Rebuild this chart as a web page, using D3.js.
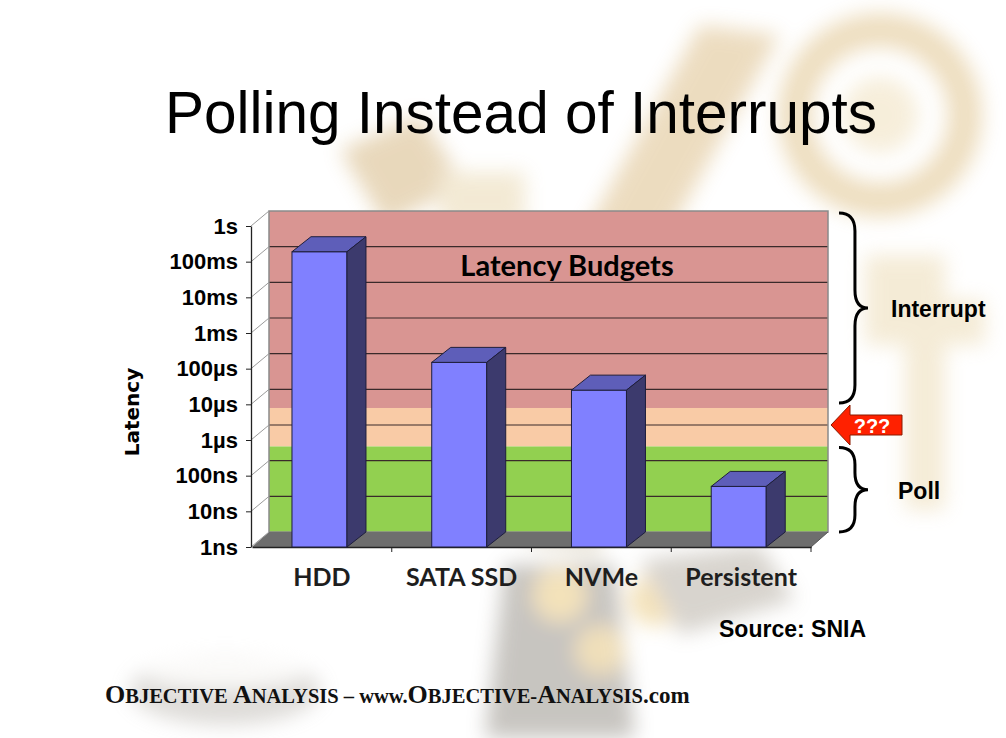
<!DOCTYPE html>
<html>
<head>
<meta charset="utf-8">
<script src="https://cdn.jsdelivr.net/npm/d3@7"></script>
<style>
  body { margin: 0; background: #fff; }
  svg { display: block; }
</style>
</head>
<body>
<svg id="chart" width="1006" height="738"></svg>
<script>
// chart values
const categories = ['HDD', 'SATA SSD', 'NVMe', 'Persistent']
const latencies = [0.19, 1.5e-4, 2.5e-5, 5e-8] // seconds
const tickValues = [1, 1e-1, 1e-2, 1e-3, 1e-4, 1e-5, 1e-6, 1e-7, 1e-8, 1e-9]
const tickLabels = ['1s', '100ms', '10ms', '1ms', '100µs', '10µs', '1µs', '100ns', '10ns', '1ns']
const bandNames = ['interrupt', 'unknown', 'poll']
const bandTops = [1, 3e-6, 2.5e-7]
const bandBottoms = [3e-6, 2.5e-7, 1e-9]

const bandColor = { interrupt: '#d99592', unknown: '#f9cba6', poll: '#92d050' }
const wallDepth = { dx: 17, dy: -15 }
const barDepth = { dx: 19, dy: -15 }
const barWidth = 55

const svg = d3.select('#chart')

const y = d3.scaleLog().domain([1e-9, 1]).range([547, 226])
const x = d3.scaleBand().domain(categories).range([252, 811])

drawBackdrop()

// back wall
const wall = svg.append('g').attr('transform', `translate(${wallDepth.dx},${wallDepth.dy})`)

wall.selectAll('rect.band')
  .data(bandNames)
  .enter()
  .append('rect')
  .attr('class', 'band')
  .attr('x', x.range()[0])
  .attr('width', x.range()[1] - x.range()[0])
  .attr('y', (d, i) => y(bandTops[i]))
  .attr('height', (d, i) => y(bandBottoms[i]) - y(bandTops[i]))
  .attr('fill', d => bandColor[d])

wall.selectAll('line.grid')
  .data(tickValues.slice(1, -1))
  .enter()
  .append('line')
  .attr('class', 'grid')
  .attr('x1', x.range()[0])
  .attr('x2', x.range()[1])
  .attr('y1', d => y(d))
  .attr('y2', d => y(d))
  .attr('stroke', '#3a2a2a')
  .attr('stroke-width', 1.2)

wall.append('rect')
  .attr('x', x.range()[0])
  .attr('y', y(1))
  .attr('width', x.range()[1] - x.range()[0])
  .attr('height', y(1e-9) - y(1))
  .attr('fill', 'none')
  .attr('stroke', '#8a8a8a')
  .attr('stroke-width', 1.5)

// floor
const x0 = x.range()[0]
const x1 = x.range()[1]
const yb = y(1e-9)
svg.append('polygon')
  .attr('points', [[x0, yb], [x1, yb], [x1 + wallDepth.dx, yb + wallDepth.dy], [x0 + wallDepth.dx, yb + wallDepth.dy]].join(' '))
  .attr('fill', '#6e6e6e')

// left side wall lines
svg.selectAll('line.side')
  .data(tickValues)
  .enter()
  .append('line')
  .attr('class', 'side')
  .attr('x1', x0 - 1)
  .attr('x2', x0 + wallDepth.dx)
  .attr('y1', d => y(d))
  .attr('y2', d => y(d) + wallDepth.dy)
  .attr('stroke', '#9a9a9a')
  .attr('stroke-width', 1)

svg.append('line')
  .attr('x1', x1).attr('y1', yb)
  .attr('x2', x1 + wallDepth.dx).attr('y2', yb + wallDepth.dy)
  .attr('stroke', '#555')

// axes
const yAxis = svg.append('g')
  .attr('transform', `translate(${x0 - 1},0)`)
  .call(d3.axisLeft(y).tickValues(tickValues).tickFormat((d, i) => tickLabels[i]).tickSize(5).tickPadding(8).tickSizeOuter(0))
yAxis.select('.domain').attr('stroke', '#222').attr('stroke-width', 1.3)
yAxis.selectAll('.tick line').attr('stroke', '#222')
yAxis.selectAll('text')
  .attr('fill', '#000')
  .style('font-family', '"Liberation Sans", Arial, sans-serif')
  .style('font-weight', 'bold')
  .style('font-size', '22px')

const xAxis = svg.append('g')
  .attr('transform', `translate(0,${yb})`)
  .call(d3.axisBottom(x).tickSize(0).tickPadding(21).tickSizeOuter(0))
xAxis.select('.domain').attr('stroke', '#222').attr('stroke-width', 1.3)
xAxis.selectAll('text')
  .attr('fill', '#1e1e1e')
  .style('font-family', 'Lato, sans-serif')
  .style('font-weight', 'bold')
  .style('font-size', '25px')

xAxis.selectAll('line.boundary')
  .data(categories.slice(1).concat(['end']))
  .enter()
  .append('line')
  .attr('class', 'boundary')
  .attr('x1', d => d === 'end' ? x1 : x(d))
  .attr('x2', d => d === 'end' ? x1 : x(d))
  .attr('y1', 0)
  .attr('y2', 5)
  .attr('stroke', '#222')

// bars
const bars = svg.selectAll('g.bar')
  .data(categories)
  .enter()
  .append('g')
  .attr('class', 'bar')

const faceLeft = d => x(d) + (x.bandwidth() - barWidth) / 2 - 2.4
const faceTop = (d, i) => y(latencies[i])

bars.append('rect')
  .attr('x', faceLeft)
  .attr('y', faceTop)
  .attr('width', barWidth)
  .attr('height', (d, i) => yb - faceTop(d, i))
  .attr('fill', '#8080ff')
  .attr('stroke', '#1e1e3c')
  .attr('stroke-width', 1)

bars.append('polygon')
  .attr('points', (d, i) => {
    const l = faceLeft(d); const r = l + barWidth; const t = faceTop(d, i)
    return [[l, t], [l + barDepth.dx, t + barDepth.dy], [r + barDepth.dx, t + barDepth.dy], [r, t]].join(' ')
  })
  .attr('fill', '#5e5eb9')
  .attr('stroke', '#1e1e3c')
  .attr('stroke-linejoin', 'round')

bars.append('polygon')
  .attr('points', (d, i) => {
    const r = faceLeft(d) + barWidth; const t = faceTop(d, i)
    return [[r, t], [r + barDepth.dx, t + barDepth.dy], [r + barDepth.dx, yb + barDepth.dy], [r, yb]].join(' ')
  })
  .attr('fill', '#3c3a6d')
  .attr('stroke', '#1e1e3c')
  .attr('stroke-linejoin', 'round')

// texts
svg.append('text')
  .attr('x', 521)
  .attr('y', 133)
  .attr('text-anchor', 'middle')
  .style('font-family', '"Liberation Sans", Arial, sans-serif')
  .style('font-size', '58.5px')
  .text('Polling Instead of Interrupts')

svg.append('text')
  .attr('x', 567)
  .attr('y', 276)
  .attr('text-anchor', 'middle')
  .style('font-family', 'Lato, sans-serif')
  .style('font-weight', 'bold')
  .style('font-size', '29px')
  .text('Latency Budgets')

svg.append('text')
  .attr('transform', 'translate(139,412) rotate(-90)')
  .attr('text-anchor', 'middle')
  .style('font-family', '"DejaVu Sans", Verdana, sans-serif')
  .style('font-weight', 'bold')
  .style('font-size', '20px')
  .text('Latency')

svg.append('text')
  .attr('x', 866)
  .attr('y', 637)
  .attr('text-anchor', 'end')
  .style('font-family', '"Liberation Sans", Arial, sans-serif')
  .style('font-weight', 'bold')
  .style('font-size', '23px')
  .text('Source: SNIA')

// braces and arrow
const braceX = 839
const braces = [
  { label: 'Interrupt', top: y(bandTops[0]) + wallDepth.dy + 2, bottom: y(bandBottoms[0]) + wallDepth.dy - 5, labelX: 891 },
  { label: 'Poll', top: y(bandTops[2]) + wallDepth.dy + 1, bottom: y(bandBottoms[2]) + wallDepth.dy, labelX: 898 }
]

svg.selectAll('path.brace')
  .data(braces)
  .enter()
  .append('path')
  .attr('class', 'brace')
  .attr('d', d => bracePath(braceX, d.top, d.bottom, 29))
  .attr('fill', 'none')
  .attr('stroke', '#000')
  .attr('stroke-width', 3)

svg.selectAll('text.brace-label')
  .data(braces)
  .enter()
  .append('text')
  .attr('class', 'brace-label')
  .attr('x', d => d.labelX)
  .attr('y', d => (d.top + d.bottom) / 2 + 9)
  .style('font-family', '"Liberation Sans", Arial, sans-serif')
  .style('font-weight', 'bold')
  .style('font-size', '23px')
  .text(d => d.label)

const arrowY = y(1e-6) + wallDepth.dy
const arrowTip = x1 + wallDepth.dx + 3
svg.append('polygon')
  .attr('points', [[arrowTip, arrowY], [arrowTip + 19, arrowY - 20], [arrowTip + 19, arrowY - 10], [arrowTip + 71, arrowY - 10],
    [arrowTip + 71, arrowY + 10], [arrowTip + 19, arrowY + 10], [arrowTip + 19, arrowY + 20]].join(' '))
  .attr('fill', '#ff2100')
  .attr('stroke', '#8a1a00')
  .attr('stroke-width', 1)

svg.append('text')
  .attr('x', arrowTip + 41)
  .attr('y', arrowY + 8)
  .attr('text-anchor', 'middle')
  .attr('fill', '#fff')
  .style('font-family', '"Liberation Sans", Arial, sans-serif')
  .style('font-weight', 'bold')
  .style('font-size', '20px')
  .text('???')

// footer
const footer = svg.append('text')
  .attr('x', 105)
  .attr('y', 703)
  .style('font-family', '"Liberation Serif", "Times New Roman", serif')
  .style('font-weight', 'bold')
  .attr('fill', '#111')
const footerParts = [['O', 26], ['BJECTIVE ', 20.5], ['A', 26], ['NALYSIS – www.', 20.5], ['O', 26], ['BJECTIVE-', 20.5], ['A', 26], ['NALYSIS', 20.5], ['.com', 23]]
footer.selectAll('tspan')
  .data(footerParts)
  .enter()
  .append('tspan')
  .style('font-size', d => d[1] + 'px')
  .text(d => d[0])

/**
 * curly brace opening to the left, tip to the right
 * @param bx
 * @param y0
 * @param y1
 * @param w
 */
function bracePath (bx, y0, y1, w) {
  const ym = (y0 + y1) / 2
  const mx = bx + w * 0.55
  const r = Math.min(18, (y1 - y0) / 5)
  return `M${bx},${y0} Q${mx},${y0} ${mx},${y0 + r} L${mx},${ym - r} Q${mx},${ym} ${bx + w},${ym} ` +
    `Q${mx},${ym} ${mx},${ym + r} L${mx},${y1 - r} Q${mx},${y1} ${bx},${y1}`
}

/**
 * faded photo behind the slide, roughed in with blurred shapes
 */
function drawBackdrop () {
  const defs = svg.append('defs')
  defs.append('filter').attr('id', 'soft').attr('x', '-20%').attr('y', '-20%').attr('width', '140%').attr('height', '140%')
    .append('feGaussianBlur').attr('stdDeviation', 10)

  const g = svg.append('g').attr('filter', 'url(#soft)').attr('opacity', 0.38)
  // upper right wheel
  g.append('circle').attr('cx', 880).attr('cy', 115).attr('r', 85).attr('fill', 'none').attr('stroke', '#d2a95a').attr('stroke-width', 34)
  g.append('circle').attr('cx', 880).attr('cy', 115).attr('r', 38).attr('fill', '#e9d3a0')
  // diagonal arm
  g.append('path').attr('d', 'M700,25 L780,35 L620,320 L550,295 Z').attr('fill', '#cfa45a')
  g.append('path').attr('d', 'M560,300 L630,315 L600,560 L525,545 Z').attr('fill', '#cfc3a8')
  // eyepiece at left
  g.append('path').attr('d', 'M340,150 L420,115 L465,185 L385,225 Z').attr('fill', '#c49a50')
  g.append('rect').attr('x', 440).attr('y', 172).attr('width', 85).attr('height', 55).attr('fill', '#e0c890')
  // knob on the right
  g.append('path').attr('d', 'M865,255 L945,255 L945,300 L985,300 L985,345 L945,345 L945,510 L905,510 L905,345 L865,345 Z').attr('fill', '#e4cc95')
  // lower body
  g.append('path').attr('d', 'M505,565 L615,565 L635,738 L485,738 Z').attr('fill', '#6e675c')
  g.append('circle').attr('cx', 560).attr('cy', 595).attr('r', 26).attr('fill', '#e2b54e')
  g.append('circle').attr('cx', 655).attr('cy', 600).attr('r', 26).attr('fill', '#e2b54e')
  g.append('circle').attr('cx', 600).attr('cy', 650).attr('r', 24).attr('fill', '#d9ad4c')
  g.append('path').attr('d', 'M640,560 L760,545 L795,600 L680,635 Z').attr('fill', '#9a9080')
  // base plate
  g.append('ellipse').attr('cx', 225).attr('cy', 690).attr('rx', 95).attr('ry', 35).attr('fill', '#a8a39a')
  g.append('ellipse').attr('cx', 225).attr('cy', 672).attr('rx', 80).attr('ry', 16).attr('fill', '#f4f2ee')
}
</script>
</body>
</html>
